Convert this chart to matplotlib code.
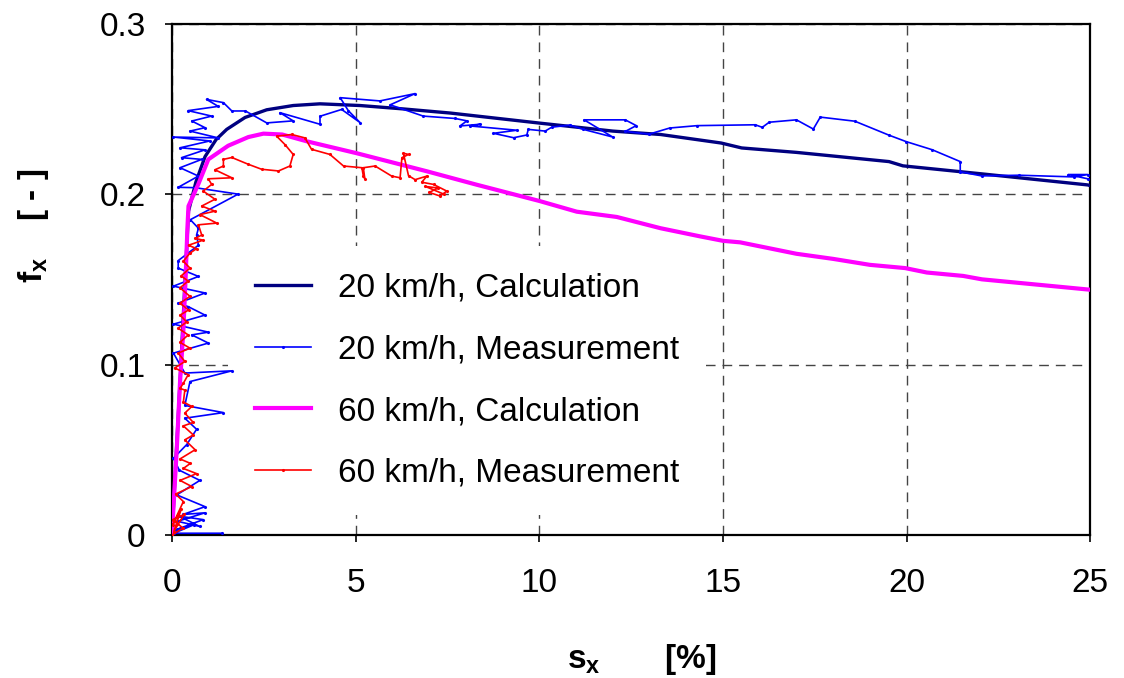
import matplotlib
matplotlib.use("Agg")
import matplotlib.pyplot as plt

plt.rcParams['font.family'] = ['Liberation Sans', 'DejaVu Sans']
plt.rcParams['mathtext.fontset'] = 'custom'
plt.rcParams['mathtext.rm'] = 'Liberation Sans'
plt.rcParams['mathtext.bf'] = 'Liberation Sans:bold'

# ------------------------------
# Data (slip s_x in %, friction coefficient f_x)
# ------------------------------
calc20_x = [0, 0.22, 0.45, 0.65, 0.9, 1.2, 1.49, 1.99, 2.58, 3.3, 4.03, 5.12, 6.3, 7.57,
            10.0, 12.0, 13.3, 14.95, 15.51, 17.0, 19.52, 19.9, 22.0, 24.93, 25.0]
calc20_y = [0, 0.09, 0.19, 0.207, 0.222, 0.232, 0.238, 0.245, 0.2495, 0.252, 0.253, 0.252,
            0.250, 0.2476, 0.2417, 0.237, 0.235, 0.230, 0.2271, 0.2245, 0.2191, 0.2166,
            0.212, 0.2054, 0.205]

meas20_x = [1.35, 0.05, 0.6, 0.1, 0.85, 0.2, 0.75, 0.15, 0.9, 0.3,
            0.9, 0.13, 0.76, 0.2, 0.04, 0.4, 0.67, 0.35, 1.4, 0.35, 0.49, 1.63, 0.35, 0.04,
            0.99, 0.54, 0.99, 0.04, 0.9, 0.44, 0.17, 0.9, 0.04, 0.72, 0.17, 0.17, 0.72, 0.67,
            0.72, 0.5, 1.8, 0.63, 0.17, 0.72, 0.22, 0.81, 0.26, 0.9, 0.22, 1.03, 0.04, 1.26,
            0.49, 0.9, 0.54, 1.08, 0.44, 1.26, 0.94, 1.4, 1.63, 2.0, 2.58, 3.3, 2.94, 4.03,
            4.03, 4.62, 5.12, 4.8, 4.58, 5.66, 6.62, 5.94, 6.84, 7.71, 8.03, 7.84, 8.39, 8.12,
            9.39, 8.75, 9.3, 9.66, 9.7, 10.16, 10.34, 10.84, 11.2, 12.0, 11.22, 12.34, 12.64,
            12.34, 12.99, 13.55, 14.3, 15.88, 16.07, 16.26, 17.0, 17.46, 17.65, 18.59, 19.52,
            19.99, 20.69, 21.46, 21.46, 22.04, 23.06, 24.56, 24.93, 24.4, 24.93]
meas20_y = [0.001, 0.001, 0.006, 0.003, 0.009, 0.011, 0.005, 0.008, 0.013, 0.012,
            0.0166, 0.0235, 0.032, 0.038, 0.045, 0.053, 0.062, 0.0685, 0.0718, 0.076, 0.090,
            0.0963, 0.095, 0.1067, 0.1126, 0.1174, 0.119, 0.1237, 0.129, 0.134, 0.136, 0.142,
            0.146, 0.1517, 0.1566, 0.161, 0.170, 0.176, 0.180, 0.185, 0.200, 0.2038, 0.204,
            0.2106, 0.2155, 0.2204, 0.2214, 0.226, 0.2272, 0.2312, 0.2335, 0.233, 0.237, 0.239,
            0.2429, 0.2458, 0.249, 0.2515, 0.2556, 0.2537, 0.2488, 0.2488, 0.2418, 0.243,
            0.2478, 0.241, 0.2457, 0.2497, 0.242, 0.249, 0.2566, 0.2547, 0.259, 0.2524, 0.2458,
            0.2444, 0.243, 0.240, 0.241, 0.240, 0.2375, 0.2357, 0.2331, 0.2347, 0.238, 0.237,
            0.2393, 0.2405, 0.238, 0.2335, 0.2436, 0.2436, 0.2402, 0.2368, 0.2352, 0.2388,
            0.2402, 0.2407, 0.2392, 0.2422, 0.2436, 0.2382, 0.2452, 0.2428, 0.2346, 0.2308,
            0.2261, 0.2191, 0.2131, 0.2107, 0.2111, 0.2101, 0.2115, 0.2115, 0.209]

calc60_x = [0, 0.05, 0.13, 0.22, 0.31, 0.37, 0.42, 0.45, 0.72, 0.99, 1.53, 2.08, 2.49, 3.0,
            3.67, 5.03, 6.94, 8.3, 10.0, 11.02, 12.11, 13.3, 14.38, 15.0, 15.47, 17.0, 18.0,
            19.0, 19.96, 20.55, 21.54, 22.05, 25.0]
calc60_y = [0, 0.02, 0.05, 0.09, 0.12, 0.15, 0.18, 0.193, 0.206, 0.2204, 0.2284, 0.2335,
            0.2355, 0.235, 0.231, 0.224, 0.2134, 0.2055, 0.196, 0.1897, 0.1866, 0.180, 0.1752,
            0.1726, 0.1717, 0.165, 0.162, 0.1585, 0.1566, 0.154, 0.152, 0.150, 0.1439]

meas60_x = [0.0, 0.3, 0.02, 0.33, 0.05, 0.25, 0.02, 0.31, 0.1, 0.54, 0.22, 0.67, 0.31, 0.5,
            0.22, 0.63, 0.35, 0.58, 0.31, 0.58, 0.35, 0.54, 0.31, 0.35, 0.22, 0.31, 0.44, 0.08,
            0.35, 0.17, 0.49, 0.22, 0.44, 0.17, 0.4, 0.22, 0.45, 0.22, 0.49, 0.22, 0.44, 0.25,
            0.49, 0.31, 0.49, 0.67, 0.45, 0.85, 0.63, 0.81, 0.72, 1.22, 0.76, 1.17, 0.81, 1.17,
            0.85, 1.08, 0.99, 1.63, 1.17, 1.4, 1.4, 1.63, 2.08, 2.44, 2.9, 3.21, 3.3, 3.08, 2.85,
            3.26, 3.62, 3.8, 4.3, 4.67, 5.17, 5.21, 5.25, 5.21, 5.53, 5.98, 6.21, 6.26, 6.44,
            6.3, 6.44, 6.62, 6.94, 6.8, 7.12, 7.48, 7.3, 7.0, 7.25, 6.9, 7.4]
meas60_y = [0.0, 0.004, 0.009, 0.012, 0.002, 0.015, 0.006, 0.0196, 0.024, 0.0284, 0.032,
            0.036, 0.039, 0.042, 0.0446, 0.050, 0.0558, 0.0587, 0.064, 0.066, 0.0715, 0.0754,
            0.078, 0.085, 0.086, 0.089, 0.094, 0.098, 0.1018, 0.1067, 0.1096, 0.113, 0.1174,
            0.1213, 0.125, 0.129, 0.132, 0.136, 0.140, 0.145, 0.149, 0.152, 0.1566, 0.1606,
            0.1654, 0.168, 0.170, 0.173, 0.174, 0.176, 0.182, 0.183, 0.188, 0.190, 0.193, 0.197,
            0.2018, 0.2057, 0.209, 0.2096, 0.2143, 0.2165, 0.2204, 0.2215, 0.2175, 0.2146,
            0.2136, 0.2165, 0.2233, 0.229, 0.234, 0.235, 0.233, 0.2263, 0.2233, 0.2165, 0.2155,
            0.2106, 0.209, 0.2155, 0.2165, 0.2106, 0.2096, 0.2214, 0.2233, 0.224, 0.2108,
            0.2085, 0.2106, 0.207, 0.2057, 0.2018, 0.1989, 0.201, 0.2036, 0.2045, 0.200]

labels = ["20 km/h, Calculation", "20 km/h, Measurement",
          "60 km/h, Calculation", "60 km/h, Measurement"]

# ------------------------------
# Plot
# ------------------------------
fig = plt.figure(figsize=(11.24, 6.78), dpi=100)
ax = fig.add_axes([0.153, 0.211, 0.817, 0.754])

ax.plot(calc20_x, calc20_y, color='#000080', lw=2.4, label=labels[0], zorder=3)
ax.plot(meas20_x, meas20_y, color='#0000FF', lw=1.2, marker='.', ms=2.5, label=labels[1], zorder=3)
ax.plot(calc60_x, calc60_y, color='#FF00FF', lw=3.0, label=labels[2], zorder=3)
ax.plot(meas60_x, meas60_y, color='#FF0000', lw=1.2, marker='.', ms=2.5, label=labels[3], zorder=3)

ax.set_xlim(0, 25)
ax.set_ylim(0, 0.3)
ax.set_xticks([0, 5, 10, 15, 20, 25])
ax.set_yticks([0, 0.1, 0.2, 0.3])
ax.set_yticklabels(['0', '0.1', '0.2', '0.3'])
ax.tick_params(axis='both', labelsize=24, direction='out', length=5, width=1.2)
ax.tick_params(axis='x', pad=19)
ax.tick_params(axis='y', pad=14)

ax.set_axisbelow(True)
ax.grid(True, color='#444444', linestyle=(0, (7, 5)), linewidth=1.0)
for sp in ax.spines.values():
    sp.set_linewidth(1.6)
    sp.set_color('black')

leg = ax.legend(loc='upper left', bbox_to_anchor=(0.061, 0.565), fontsize=24,
                frameon=True, facecolor='white', edgecolor='none', framealpha=1,
                fancybox=False, borderpad=0.8, borderaxespad=0, handlelength=1.7,
                handletextpad=0.8, labelspacing=0.92)
leg.set_zorder(2)

fig.text(0.030, 0.667, r'$\mathbf{f_x}$    [ - ]', rotation=90, fontsize=24,
         fontweight='bold', ha='center', va='center')
fig.text(0.571, 0.027, r'$\mathbf{s_x}$       [%]', fontsize=24,
         fontweight='bold', ha='center', va='center')

plt.savefig("out.png", dpi=100)
